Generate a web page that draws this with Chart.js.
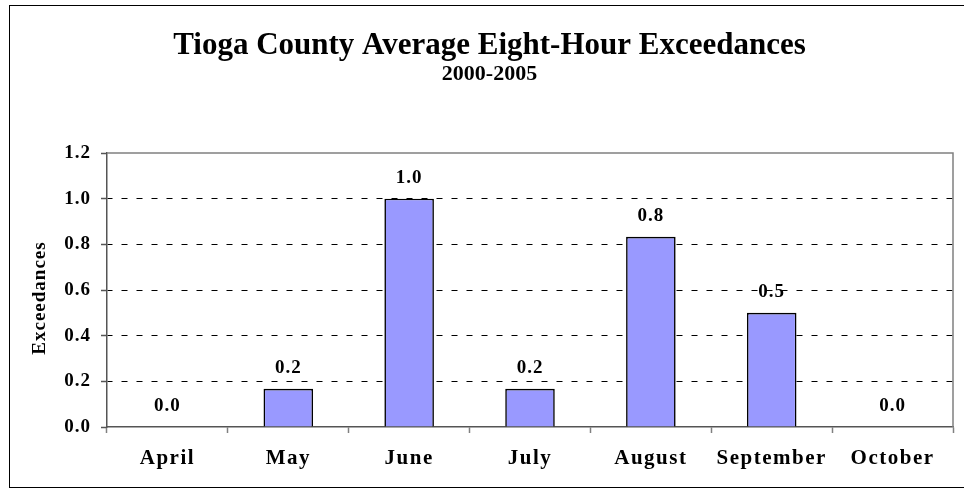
<!DOCTYPE html>
<html>
<head>
<meta charset="utf-8">
<script src="https://cdn.jsdelivr.net/npm/chart.js@4.4.0/dist/chart.umd.min.js"></script>
<style>
  html, body { margin: 0; padding: 0; background: #fff; }
  #wrap { width: 964px; height: 498px; position: relative; }
</style>
</head>
<body>
<div id="wrap"><canvas id="c" width="964" height="498"></canvas></div>
<script>
const categories = ["April", "May", "June", "July", "August", "September", "October"];
const exceedances = [0.0, 0.167, 1.0, 0.167, 0.833, 0.5, 0.0];
const yTicks = [0.0, 0.2, 0.4, 0.6, 0.8, 1.0, 1.2];
const titleText = "Tioga County Average Eight-Hour Exceedances";
const subtitleText = "2000-2005";
const yTitle = "Exceedances";

const SERIF = "'Liberation Serif', 'Times New Roman', serif";

function withSpacing(ctx, sp, fn) {
  const prev = ctx.letterSpacing;
  if (prev !== undefined) ctx.letterSpacing = sp;
  try { fn(); } finally { if (prev !== undefined) ctx.letterSpacing = prev; }
}

const spacingPlugin = {
  id: 'spacing',
  beforeLayout(chart) {
    const sx = chart.scales.x, sy = chart.scales.y;
    if (sx && !sx._patched) {
      const o = sx.drawLabels;
      sx.drawLabels = function (a) { withSpacing(chart.ctx, '1.5px', () => o.call(this, a)); };
      sx._patched = true;
    }
    if (sy && !sy._patched) {
      const ol = sy.drawLabels;
      sy.drawLabels = function (a) { withSpacing(chart.ctx, '1px', () => ol.call(this, a)); };
      const ot = sy.drawTitle;
      sy.drawTitle = function (a) {
        const ctx = chart.ctx;
        ctx.save();
        ctx.translate(0, 8);
        withSpacing(ctx, '1px', () => ot.call(this, a));
        ctx.restore();
      };
      sy._patched = true;
    }
  }
};

const framePlugin = {
  id: 'frame',
  beforeDraw(chart) {
    const ctx = chart.ctx;
    ctx.save();
    ctx.fillStyle = '#ffffff';
    ctx.fillRect(0, 0, chart.width, chart.height);
    ctx.strokeStyle = '#000000';
    ctx.lineWidth = 1;
    ctx.strokeRect(9.5, 5.5, 960, 482);
    ctx.restore();
  },
  afterDatasetsDraw(chart) {
    const ctx = chart.ctx;
    const a = chart.chartArea;
    ctx.save();
    ctx.strokeStyle = '#808080';
    ctx.lineWidth = 1.5;
    ctx.beginPath();
    ctx.moveTo(a.left, a.top);
    ctx.lineTo(a.right, a.top);
    ctx.lineTo(a.right, a.bottom);
    ctx.stroke();
    ctx.restore();
  }
};

const labelPlugin = {
  id: 'barLabels',
  afterDatasetsDraw(chart) {
    const ctx = chart.ctx;
    const meta = chart.getDatasetMeta(0);
    ctx.save();
    ctx.font = "bold 19px " + SERIF;
    if (ctx.letterSpacing !== undefined) ctx.letterSpacing = '1px';
    ctx.fillStyle = '#000';
    ctx.textAlign = 'center';
    ctx.textBaseline = 'middle';
    meta.data.forEach((bar, i) => {
      const v = chart.data.datasets[0].data[i];
      ctx.fillText(v.toFixed(1), bar.x, bar.y - 21);
    });
    ctx.restore();
  }
};

new Chart(document.getElementById('c'), {
  type: 'bar',
  data: {
    labels: categories,
    datasets: [{
      data: exceedances,
      backgroundColor: '#9999FF',
      borderColor: '#000000',
      borderWidth: 1.6,
      borderSkipped: 'bottom',
      barPercentage: 0.41,
      categoryPercentage: 1.0
    }]
  },
  options: {
    responsive: false,
    animation: false,
    devicePixelRatio: 1,
    layout: { padding: { left: 26, right: 11, top: 0, bottom: 0 } },
    plugins: {
      legend: { display: false },
      tooltip: { enabled: false },
      title: {
        display: true,
        text: titleText,
        color: '#000',
        font: { family: SERIF, size: 31, weight: 'bold', lineHeight: 1.0 },
        padding: { top: 30, bottom: 0 }
      },
      subtitle: {
        display: true,
        text: subtitleText,
        color: '#000',
        font: { family: SERIF, size: 22, weight: 'bold', lineHeight: 1.0 },
        padding: { top: 2, bottom: 68 }
      }
    },
    scales: {
      x: {
        afterFit(scale) { scale.height = 71; },
        grid: {
          drawOnChartArea: false,
          drawTicks: true,
          tickLength: 6,
          tickColor: '#808080',
          tickWidth: 1.5
        },
        border: { display: true, color: '#555555', width: 1.5 },
        ticks: {
          color: '#000',
          padding: 13,
          maxRotation: 0,
          autoSkip: false,
          font: { family: SERIF, size: 21, weight: 'bold' }
        }
      },
      y: {
        min: 0,
        max: 1.2,
        afterFit(scale) { scale.width = 81; },
        afterBuildTicks(scale) { scale.ticks = yTicks.map(v => ({ value: v })); },
        grid: {
          color: (c) => (c.tick && (c.tick.value === 0 || Math.abs(c.tick.value - 1.2) < 1e-6)) ? 'rgba(0,0,0,0)' : '#000000',
          lineWidth: 1,
          drawTicks: true,
          tickLength: 6,
          tickColor: '#555555',
          tickWidth: 1.5,
          tickBorderDash: []
        },
        border: { display: true, color: '#555555', width: 1.5, dash: [6, 9], dashOffset: 1 },
        ticks: {
          color: '#000',
          padding: 10,
          font: { family: SERIF, size: 19, weight: 'bold' },
          callback: (v) => Number(v).toFixed(1)
        },
        title: {
          display: true,
          text: yTitle,
          color: '#000',
          font: { family: SERIF, size: 19, weight: 'bold', lineHeight: 1.2 },
          padding: { top: 3, bottom: 0 }
        }
      }
    }
  },
  plugins: [spacingPlugin, framePlugin, labelPlugin]
});
</script>
</body>
</html>
